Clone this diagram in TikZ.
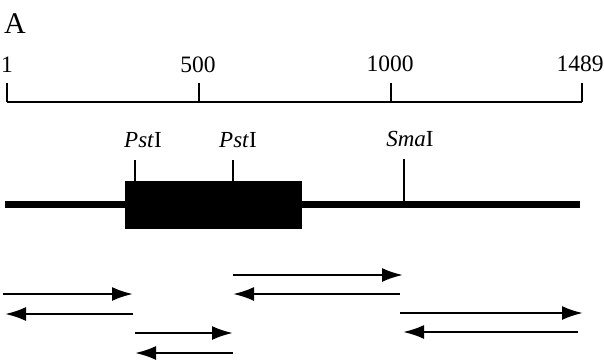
\documentclass[tikz,border=0pt]{standalone}
\usepackage{fontspec}
\setmainfont{Liberation Serif}
\usetikzlibrary{arrows.meta}
\begin{document}
\begin{tikzpicture}[x=1pt,y=-1pt,
  numlbl/.style={anchor=base,inner sep=0pt,font=\fontsize{23.5}{25}\selectfont},
  sitelbl/.style={anchor=base,inner sep=0pt,font=\fontsize{23}{25}\selectfont},
  rulerline/.style={line width=1.4pt},
  ticklne/.style={line width=1.1pt},
  frag/.style={line width=2.4pt,-{Latex[length=21pt,width=14pt]}}]
\useasboundingbox (0,0) rectangle (604,360);
% panel label
\node[anchor=base west,inner sep=0pt,font=\fontsize{30}{31}\selectfont] (panelA) at (4,33) {A};
% ruler
\coordinate (r1) at (7,102);
\coordinate (r500) at (199,102);
\coordinate (r1000) at (391,102);
\coordinate (r1489) at (582,102);
\coordinate (t1) at (7,83);
\coordinate (t500) at (199,83);
\coordinate (t1000) at (391,83);
\coordinate (t1489) at (582,83);
\draw[rulerline] (r1) -- (r1489);
\draw[ticklne] (t1) -- (r1);
\draw[ticklne] (t500) -- (r500);
\draw[ticklne] (t1000) -- (r1000);
\draw[ticklne] (t1489) -- (r1489);
\node[numlbl] (n1) at (7,72) {1};
\node[numlbl] (n500) at (198,72) {500};
\node[numlbl] (n1000) at (390,71) {1000};
\node[numlbl] (n1489) at (580,71) {1489};
% DNA
\coordinate (dnaL) at (5,204);
\coordinate (dnaR) at (580,204);
\draw[line width=7pt] (dnaL) -- (dnaR);
\node[fill=black,draw=black,minimum width=176pt,minimum height=47pt,inner sep=0pt] (orf) at (213,204.5) {};
% sites
\coordinate (p1t) at (135,160);
\coordinate (p1b) at (135,181);
\coordinate (p2t) at (233,160);
\coordinate (p2b) at (233,181);
\coordinate (smt) at (404,159);
\coordinate (smb) at (404,202);
\draw[ticklne] (p1t) -- (p1b);
\draw[ticklne] (p2t) -- (p2b);
\draw[ticklne] (smt) -- (smb);
\node[sitelbl] (pst1) at (143,147) {\textit{Pst}I};
\node[sitelbl] (pst2) at (238,147) {\textit{Pst}I};
\node[sitelbl] (sma) at (410,146) {\textit{Sma}I};
% sequencing fragments
\coordinate (a1s) at (3,294);   \coordinate (a1e) at (133,294);
\coordinate (a2s) at (133,314); \coordinate (a2e) at (5,314);
\coordinate (a3s) at (135,333); \coordinate (a3e) at (233,333);
\coordinate (a4s) at (233,353); \coordinate (a4e) at (135,353);
\coordinate (a5s) at (233,275); \coordinate (a5e) at (403,275);
\coordinate (a6s) at (400,294); \coordinate (a6e) at (233,294);
\coordinate (a7s) at (400,313); \coordinate (a7e) at (583,313);
\coordinate (a8s) at (578,332); \coordinate (a8e) at (403,332);
\draw[frag] (a1s) -- (a1e);
\draw[frag] (a2s) -- (a2e);
\draw[frag] (a3s) -- (a3e);
\draw[frag] (a4s) -- (a4e);
\draw[frag] (a5s) -- (a5e);
\draw[frag] (a6s) -- (a6e);
\draw[frag] (a7s) -- (a7e);
\draw[frag] (a8s) -- (a8e);
\end{tikzpicture}
\end{document}
